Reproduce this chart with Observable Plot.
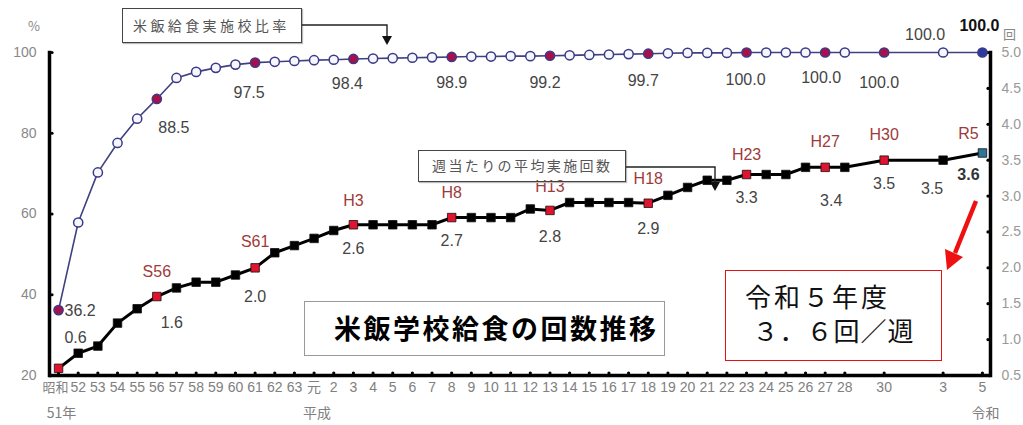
<!DOCTYPE html>
<html>
<head>
<meta charset="utf-8">
<script src="https://cdn.jsdelivr.net/npm/d3@7"></script>
<script src="https://cdn.jsdelivr.net/npm/@observablehq/plot@0.6"></script>
<style>
  html, body { margin: 0; padding: 0; background: #fff; }
  #wrap { position: relative; width: 1023px; height: 425px; overflow: hidden; font-family: "Liberation Sans", Arial, sans-serif; }
  #wrap svg.plot { position: absolute; left: 0; top: 0; }
  .ann { position: absolute; box-sizing: border-box; font-family: "Noto Sans CJK JP", sans-serif; white-space: nowrap; }
  .unit { position: absolute; font-family: "Noto Sans CJK JP", sans-serif; color: #888; font-size: 13px; }
</style>
</head>
<body>
<div id="wrap"></div>
<script>
// ---- data (fiscal years; Showa 51 = 1976, Heisei 1 = 1989, Reiwa 1 = 2019) ----
const years = [1976,1977,1978,1979,1980,1981,1982,1983,1984,1985,1986,1987,1988,
  1989,1990,1991,1992,1993,1994,1995,1996,1997,1998,1999,2000,2001,2002,2003,2004,
  2005,2006,2007,2008,2009,2010,2011,2012,2013,2014,2015,2016,2018,2021,2023];
const tickLabels = ["昭和","52","53","54","55","56","57","58","59","60","61","62","63",
  "元","2","3","4","5","6","7","8","9","10","11","12","13","14","15","16",
  "17","18","19","20","21","22","23","24","25","26","27","28","30","3","5"];
const eraRowYears = [1976, 1989, 2023];
const eraRowLabels = ["51年", "平成", "令和"];
// 米飯給食実施校比率 (%)
const schoolRate = [36.2,57.9,70.3,77.6,83.6,88.5,93.7,95.2,96.2,97.0,97.5,97.7,97.9,
  98.1,98.2,98.4,98.5,98.6,98.7,98.8,98.9,99.0,99.0,99.1,99.1,99.2,99.3,99.4,99.5,
  99.6,99.7,99.8,99.9,99.9,99.9,100.0,100.0,100.0,100.0,100.0,100.0,100.0,100.0,100.0];
// 週当たりの平均実施回数 (回)
const timesPerWeek = [0.6,0.81,0.91,1.23,1.43,1.6,1.72,1.8,1.8,1.9,2.0,2.21,2.31,
  2.41,2.52,2.6,2.6,2.6,2.6,2.6,2.7,2.7,2.7,2.7,2.82,2.8,2.91,2.91,2.91,
  2.91,2.9,3.01,3.12,3.22,3.22,3.3,3.3,3.3,3.4,3.4,3.4,3.5,3.5,3.6];
const highlightYears = [1976,1981,1986,1991,1996,2001,2006,2011,2015,2018];
const latestYear = 2023;
const eraLabelYears = [1981,1986,1991,1996,2001,2006,2011,2015,2018,2023];
const eraLabels = ["S56","S61","H3","H8","H13","H18","H23","H27","H30","R5"];
const rateLabelYears = [1976,1981,1986,1991,1996,2001,2006,2011,2015,2018,2021,2023];
const countLabelYears = [1976,1981,1986,1991,1996,2001,2006,2011,2015,2018,2021,2023];
const leftTicks = [20,40,60,80,100];
const rightTicks = [0.5,1.0,1.5,2.0,2.5,3.0,3.5,4.0,4.5,5.0];

// ---- build tables ----
const toPct = v => 20 + (v - 0.5) * 80 / 4.5; // right axis 0.5–5.0 aligned with left 20–100
const rows = years.map((yr, i) => ({year: yr, rate: schoolRate[i], times: timesPerWeek[i], tpos: toPct(timesPerWeek[i])}));
const byYear = new Map(rows.map(r => [r.year, r]));
const labelOf = new Map(years.map((y, i) => [y, tickLabels[i]]));
const eraOf = new Map(eraLabelYears.map((y, i) => [y, eraLabels[i]]));
const fmt = d3.format(".1f");
const firstYear = years[0];

// styling: label nudges [dx, dy, anchor]
const rateNudge = {1976:[6,1,"start"],1981:[17,29,"middle"],1986:[-6,30,"middle"],1991:[-6,25,"middle"],
  1996:[0,26,"middle"],2001:[-5,27,"middle"],2006:[-5,27,"middle"],2011:[-1,27,"middle"],
  2015:[-4,25,"middle"],2018:[-5,30,"middle"],2021:[-18,-18,"middle"],2023:[-3,-27,"middle"]};
const countNudge = {1976:[17,-30],1981:[15,26],1986:[0,29],1991:[0,24],1996:[0,23],2001:[0,26],
  2006:[0,26],2011:[0,23],2015:[6,34],2018:[0,24],2021:[-11,29],2023:[-14,22]};
const eraNudge = {1981:[0,-25],1986:[0,-26],1991:[0,-24],1996:[0,-25],2001:[0,-24],2006:[0,-24],
  2011:[0,-20],2015:[0,-25],2018:[0,-25],2023:[-14,-19]};

const valueFont = {fontSize: 16, fill: "#444", fontFamily: "Liberation Sans, Arial, sans-serif"};
const marks = [];

// axis lines
marks.push(Plot.ruleY([20], {stroke: "#000", strokeWidth: 3.5}));
marks.push(Plot.frame({anchor: "left", stroke: "#000", strokeWidth: 3.5}));
marks.push(Plot.frame({anchor: "right", stroke: "#000", strokeWidth: 3.5}));
// tick dots
marks.push(Plot.dot(years, {x: d => d, y: 20, r: 1.6, fill: "#000", dy: -2.5}));
marks.push(Plot.dot(leftTicks, {y: d => d, frameAnchor: "left", r: 1.6, fill: "#000", dx: 2.5}));
marks.push(Plot.dot(rightTicks, {y: d => toPct(d), frameAnchor: "right", r: 1.6, fill: "#000", dx: -2.5}));

// axes
marks.push(Plot.axisX({ticks: years, tickFormat: d => d === firstYear ? "" : labelOf.get(d), tickSize: 0, tickPadding: 7,
  fontSize: 14, fill: "#808080", fontFamily: "Liberation Sans, Noto Sans CJK JP, sans-serif", label: null}));
marks.push(Plot.axisX({ticks: [firstYear], tickFormat: d => labelOf.get(d), tickSize: 0, tickPadding: 7, dx: -3,
  fontSize: 13, fill: "#808080", fontFamily: "Noto Sans CJK JP, sans-serif", label: null}));
marks.push(Plot.axisX({ticks: eraRowYears, tickFormat: d => eraRowLabels[eraRowYears.indexOf(d)], tickSize: 0, tickPadding: 33,
  fontSize: 14, fill: "#808080", fontFamily: "Noto Sans CJK JP, sans-serif", label: null, dx: 3}));
marks.push(Plot.axisY({ticks: leftTicks, tickSize: 0, tickPadding: 13, anchor: "left", fontSize: 14,
  fill: "#888", label: null, fontFamily: "Liberation Sans, Arial, sans-serif"}));
marks.push(Plot.axisY({ticks: rightTicks.map(toPct), tickFormat: d => fmt(rightTicks[rightTicks.map(toPct).indexOf(d)]),
  tickSize: 0, tickPadding: 11, anchor: "right", fontSize: 14, fill: "#999", label: null, fontFamily: "Liberation Sans, Arial, sans-serif"}));

// school-rate series
marks.push(Plot.line(rows, {x: "year", y: "rate", stroke: "#404080", strokeWidth: 1.6}));
marks.push(Plot.dot(rows, {x: "year", y: "rate", r: 4.6, stroke: "#3a3a85", strokeWidth: 1.5,
  fill: d => d.year === latestYear ? "#2a3aa0" : highlightYears.includes(d.year) ? "#a8104c" : "#f6f6ff"}));

// times-per-week series
marks.push(Plot.line(rows, {x: "year", y: "tpos", stroke: "#000", strokeWidth: 3}));
marks.push(Plot.dot(rows, {x: "year", y: "tpos", symbol: "square", r: 4.8, stroke: "#111", strokeWidth: 0.8,
  fill: d => d.year === latestYear ? "#2f7595" : highlightYears.includes(d.year) ? "#e0142e" : "#000"}));

// rate labels
for (const yr of rateLabelYears) {
  const [dx, dy, anchor] = rateNudge[yr];
  marks.push(Plot.text([byYear.get(yr)], {x: "year", y: "rate", text: d => fmt(d.rate), dx, dy, textAnchor: anchor,
    ...valueFont, fontWeight: yr === latestYear ? "bold" : "normal", fill: yr === latestYear ? "#111" : "#444"}));
}
// count labels
for (const yr of countLabelYears) {
  const [dx, dy] = countNudge[yr];
  marks.push(Plot.text([byYear.get(yr)], {x: "year", y: "tpos", text: d => fmt(d.times), dx, dy,
    ...valueFont, fontWeight: yr === latestYear ? "bold" : "normal", fill: yr === latestYear ? "#333" : "#444"}));
}
// era labels
for (const yr of eraLabelYears) {
  const [dx, dy] = eraNudge[yr];
  marks.push(Plot.text([byYear.get(yr)], {x: "year", y: "tpos", text: d => eraOf.get(d.year), dx, dy,
    fontSize: 16, fill: "#a03a3a", fontFamily: "Liberation Sans, Arial, sans-serif"}));
}

const chart = Plot.plot({
  width: 1023,
  height: 425,
  marginLeft: 49,
  marginRight: 33,
  marginTop: 52,
  marginBottom: 50,
  x: {domain: [1975.54, 2023.41]},
  y: {domain: [20, 100]},
  style: {background: "transparent", overflow: "visible"},
  marks
});
chart.classList.add("plot");
const wrap = document.getElementById("wrap");
wrap.appendChild(chart);

// ---- annotations ----
wrap.insertAdjacentHTML("beforeend", `
  <div class="unit" style="left:28px;top:16px;">%</div>
  <div class="unit" style="left:1003px;top:24px;">回</div>
  <div class="ann" style="left:122px;top:8px;width:180px;height:35px;border:1.5px solid #444;box-shadow:1px 1px 1px #bbb;
       font-size:14px;letter-spacing:3.4px;color:#555;line-height:32px;padding-left:10px;">米飯給食実施校比率</div>
  <div class="ann" style="left:418px;top:150px;width:208px;height:32px;border:1.5px solid #444;box-shadow:1px 1px 1px #bbb;
       font-size:14px;letter-spacing:2.4px;color:#555;line-height:29px;padding-left:13px;">週当たりの平均実施回数</div>
  <div class="ann" style="left:304px;top:301px;width:361px;height:55px;border:1.5px solid #999;
       font-size:27px;font-weight:bold;letter-spacing:2.5px;color:#000;line-height:52px;padding-left:29px;">米飯学校給食の回数推移</div>
  <div class="ann" style="left:725px;top:270px;width:217px;height:91px;border:1.5px solid #e61010;
       font-size:26px;letter-spacing:3px;color:#111;line-height:34px;padding:8px 0 0 19px;">令和５年度<br><span style="letter-spacing:1px;">&#8197;３．６回／週</span></div>
  <svg width="1023" height="425" style="position:absolute;left:0;top:0;pointer-events:none;">
    <path d="M302,25 H387 V37" fill="none" stroke="#222" stroke-width="1.4"/>
    <path d="M382,36 L392,36 L387,45 Z" fill="#111"/>
    <path d="M626,167 H715 V183" fill="none" stroke="#222" stroke-width="1.4"/>
    <path d="M710,182 L720,182 L715,191 Z" fill="#111"/>
    <line x1="976" y1="201" x2="955" y2="253" stroke="#ee1111" stroke-width="4.5"/>
    <path d="M945,249 L963,257 L947,270 Z" fill="#ee1111"/>
  </svg>
`);
</script>
</body>
</html>
